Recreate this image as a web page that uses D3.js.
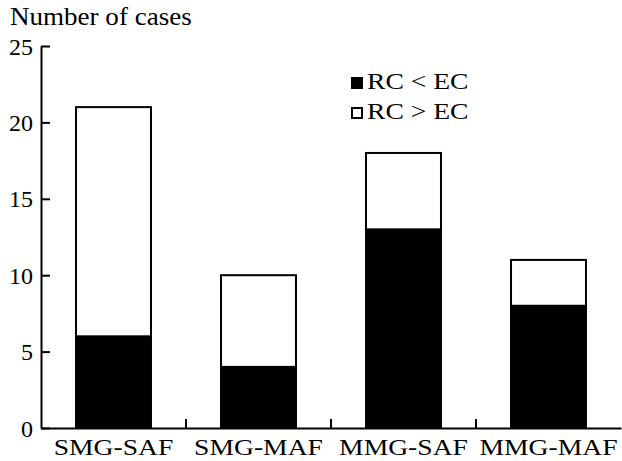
<!DOCTYPE html>
<html lang="en">
<head>
<meta charset="UTF-8">
<title>Number of cases</title>
<script src="https://cdn.jsdelivr.net/npm/d3@7"></script>
<style>
  body { margin: 0; background: #fff; }
  text { font-family: "Liberation Serif", "Times New Roman", serif; fill: #000; }
</style>
</head>
<body>
<script>
// data
var categories = ["SMG-SAF", "SMG-MAF", "MMG-SAF", "MMG-MAF"];
var seriesNames = ["RC < EC", "RC > EC"];
var rcLess = [6, 4, 13, 8];     // black part
var rcMore = [15, 6, 5, 3];     // white part on top
var yTicks = [0, 5, 10, 15, 20, 25];

var width = 622, height = 461;
var margin = {top: 46, right: 1, bottom: 33, left: 41};

var svg = d3.select("body").append("svg")
    .attr("width", width)
    .attr("height", height);

var x = d3.scaleBand()
    .domain(categories)
    .range([margin.left, width - margin.right])
    .paddingInner(0.483)
    .paddingOuter(0.2415);

var y = d3.scaleLinear()
    .domain([0, 25])
    .range([height - margin.bottom, margin.top]);

// stretch text horizontally a bit, the original font is wider than Times
function stretch(sel, k) {
  sel.each(function() {
    var w = this.getComputedTextLength();
    d3.select(this).attr("textLength", w * k).attr("lengthAdjust", "spacingAndGlyphs");
  });
}

// stacked bars
var rows = categories.map(function(c, i) {
  return {cat: c, less: rcLess[i], more: rcMore[i]};
});
var stack = d3.stack().keys(["less", "more"]);
var layers = stack(rows);
var fills = ["#000", "#fff"];

svg.append("g").selectAll("g")
  .data(layers)
  .enter().append("g")
    .attr("fill", function(d, i) { return fills[i]; })
  .selectAll("rect")
  .data(function(d) { return d; })
  .enter().append("rect")
    .attr("x", function(d) { return x(d.data.cat); })
    .attr("y", function(d) { return y(d[1]); })
    .attr("width", x.bandwidth())
    .attr("height", function(d) { return y(d[0]) - y(d[1]); })
    .attr("stroke", "#000")
    .attr("stroke-width", 2);

// y axis, ticks pointing inside
var yAxis = svg.append("g")
    .attr("transform", "translate(" + margin.left + ",0)")
    .call(d3.axisLeft(y).tickValues(yTicks).tickSizeInner(-9).tickSizeOuter(0).tickPadding(8));
yAxis.select(".domain").attr("stroke-width", 2);
yAxis.selectAll(".tick line").attr("stroke-width", 2);
yAxis.selectAll(".tick text")
    .attr("font-family", null)
    .attr("font-size", 24)
    .attr("dy", "0.34em");

// x axis with labels under bars
var xAxis = svg.append("g")
    .attr("transform", "translate(0," + y(0) + ")")
    .call(d3.axisBottom(x).tickSize(0).tickPadding(10));
xAxis.select(".domain").attr("stroke-width", 2);
xAxis.selectAll(".tick text")
    .attr("font-family", null)
    .attr("font-size", 24)
    .call(stretch, 1.15);

// small upward ticks between the groups
var gap = x.step() * x.paddingInner() / 2;
xAxis.selectAll(".sep")
  .data(categories.slice(1))
  .enter().append("line")
    .attr("class", "sep")
    .attr("x1", function(d) { return x(d) - gap; })
    .attr("x2", function(d) { return x(d) - gap; })
    .attr("y1", 0)
    .attr("y2", -9)
    .attr("stroke", "#000")
    .attr("stroke-width", 2);

// axis title
svg.append("text")
    .attr("x", 10)
    .attr("y", 25)
    .attr("font-size", 26)
    .text("Number of cases")
    .call(stretch, 1.04);

// legend
var legend = svg.append("g").attr("transform", "translate(351,77)");
var li = legend.selectAll("g")
  .data(seriesNames)
  .enter().append("g")
    .attr("transform", function(d, i) { return "translate(0," + i * 30 + ")"; });
li.append("rect")
    .attr("x", 1)
    .attr("y", 1)
    .attr("width", 10)
    .attr("height", 10)
    .attr("fill", function(d, i) { return fills[i]; })
    .attr("stroke", "#000")
    .attr("stroke-width", 2);
li.append("text")
    .attr("x", 16)
    .attr("y", 12)
    .attr("font-size", 23)
    .text(function(d) { return d; })
    .call(stretch, 1.2);
</script>
</body>
</html>
